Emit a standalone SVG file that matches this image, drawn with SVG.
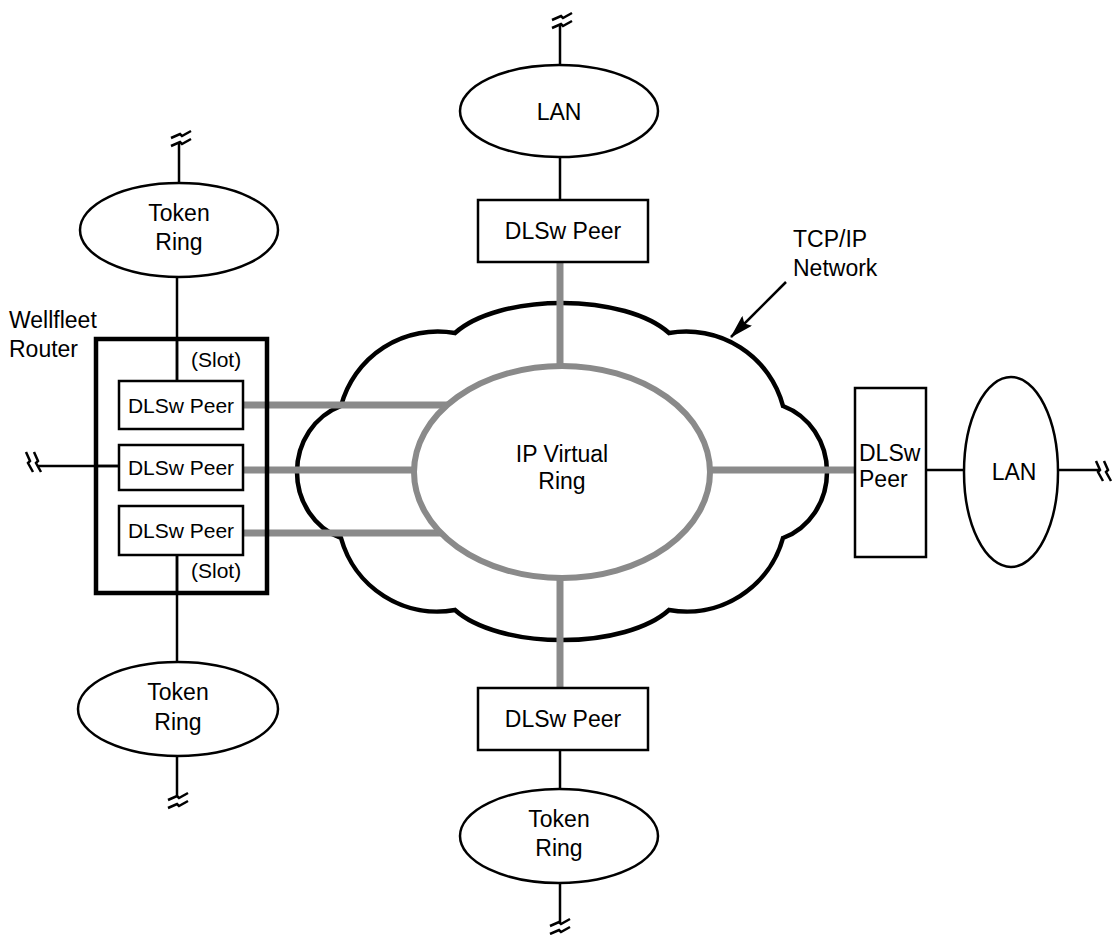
<svg xmlns="http://www.w3.org/2000/svg" xmlns:xlink="http://www.w3.org/1999/xlink" width="1118" height="935" viewBox="0 0 1118 935">
<style>
text{font-family:"Liberation Sans",Arial,Helvetica,sans-serif;font-size:23px;fill:#000}
.c{text-anchor:middle}
.sm{font-size:21px}
.node{fill:#fff;stroke:#000;stroke-width:2.5}
.thin{fill:none;stroke:#000;stroke-width:2.5}
.gray{fill:none;stroke:#8a8a8a;stroke-width:7}
.brk{fill:none;stroke:#000;stroke-width:2.5;stroke-linejoin:miter}
</style>
<defs>
<g id="brk">
<path class="brk" d="M-10,0 L-1,-4 L1,-2 L10,-7"/>
<path class="brk" d="M-10,8 L-1,4 L1,6 L10,1"/>
</g>
<marker id="ah" viewBox="0 0 24 14" refX="23" refY="7" markerWidth="24" markerHeight="14" markerUnits="userSpaceOnUse" orient="auto">
<path d="M0,0 L24,7 L0,14 L4,7 z" fill="#000"/>
</marker>
</defs>
<rect width="1118" height="935" fill="#fff"/>

<g id="cloud">
<path d="M455,333 A120,55 0 0 1 669,333 A100,100 0 0 1 783,406 A66,70 0 0 1 783,538 A100,100 0 0 1 669,610 A120,55 0 0 1 455,610 A100,100 0 0 1 341,538 A66,70 0 0 1 341,406 A100,100 0 0 1 455,333 Z" fill="#fff" stroke="#000" stroke-width="4.5" stroke-linejoin="miter"/>
</g>

<g id="connectors">
<line class="thin" x1="560" y1="25" x2="560" y2="65"/>
<line class="thin" x1="560" y1="157" x2="560" y2="200"/>
<line class="gray" x1="560" y1="262" x2="560" y2="368"/>
<line class="gray" x1="560" y1="577" x2="560" y2="688"/>
<line class="thin" x1="560" y1="750" x2="560" y2="790"/>
<line class="thin" x1="560" y1="883" x2="560" y2="924"/>
<line class="thin" x1="179" y1="143" x2="179" y2="183"/>
<line class="thin" x1="177" y1="277" x2="177" y2="381"/>
<line class="thin" x1="177" y1="555" x2="177" y2="662"/>
<line class="thin" x1="177" y1="757" x2="177" y2="797"/>
<line class="thin" x1="38" y1="466" x2="119" y2="466"/>
<line class="gray" x1="243" y1="405" x2="449" y2="405"/>
<line class="gray" x1="243" y1="470" x2="416" y2="470"/>
<line class="gray" x1="243" y1="533" x2="443" y2="533"/>
<line class="gray" x1="708" y1="470" x2="855" y2="470"/>
<line class="thin" x1="926" y1="470" x2="964" y2="470"/>
<line class="thin" x1="1058" y1="470" x2="1100" y2="470"/>
<line class="thin" x1="786" y1="282" x2="731" y2="337" marker-end="url(#ah)"/>
<use xlink:href="#brk" href="#brk" transform="translate(562,20)"/>
<use xlink:href="#brk" href="#brk" transform="translate(181,138)"/>
<use xlink:href="#brk" href="#brk" transform="translate(178,800)"/>
<use xlink:href="#brk" href="#brk" transform="translate(560,926)"/>
<use xlink:href="#brk" href="#brk" transform="translate(34,462) rotate(90)"/>
<use xlink:href="#brk" href="#brk" transform="translate(1104,471) rotate(90)"/>
</g>

<g id="ip-virtual-ring">
<ellipse cx="562" cy="472" rx="148" ry="106" fill="#fff" stroke="#8a8a8a" stroke-width="6"/>
<text class="c" x="562" y="462">IP Virtual</text>
<text class="c" x="562" y="489">Ring</text>
</g>

<g id="tcpip-label">
<text x="793" y="247">TCP/IP</text>
<text x="793" y="276">Network</text>
</g>

<g id="lan-top">
<ellipse class="node" cx="559" cy="111" rx="99" ry="46"/>
<text class="c" x="559" y="120">LAN</text>
</g>

<g id="dlsw-top">
<rect class="node" x="478" y="200" width="170" height="62"/>
<text class="c" x="563" y="239">DLSw Peer</text>
</g>

<g id="dlsw-bottom">
<rect class="node" x="478" y="688" width="170" height="62"/>
<text class="c" x="563" y="727">DLSw Peer</text>
</g>

<g id="token-ring-bottom">
<ellipse class="node" cx="559" cy="836" rx="99" ry="47"/>
<text class="c" x="559" y="827">Token</text>
<text class="c" x="559" y="856">Ring</text>
</g>

<g id="token-ring-top-left">
<ellipse class="node" cx="179" cy="230" rx="99" ry="47"/>
<text class="c" x="179" y="221">Token</text>
<text class="c" x="179" y="250">Ring</text>
</g>

<g id="token-ring-bottom-left">
<ellipse class="node" cx="178" cy="709" rx="100" ry="47"/>
<text class="c" x="178" y="700">Token</text>
<text class="c" x="178" y="730">Ring</text>
</g>

<g id="wellfleet-router">
<text x="9" y="328">Wellfleet</text>
<text x="9" y="357">Router</text>
<rect x="96" y="339" width="171" height="254" fill="none" stroke="#000" stroke-width="4.5"/>
<line class="thin" x1="177" y1="339" x2="177" y2="381"/>
<line class="thin" x1="177" y1="555" x2="177" y2="593"/>
<line class="thin" x1="96" y1="466" x2="119" y2="466"/>
<text class="sm" x="191" y="367">(Slot)</text>
<text class="sm" x="191" y="578">(Slot)</text>
</g>

<g id="dlsw-router-1">
<rect class="node" x="119" y="381" width="124" height="48"/>
<text class="c sm" x="181" y="413">DLSw Peer</text>
</g>
<g id="dlsw-router-2">
<rect class="node" x="119" y="445" width="124" height="45"/>
<text class="c sm" x="181" y="475">DLSw Peer</text>
</g>
<g id="dlsw-router-3">
<rect class="node" x="119" y="506" width="124" height="49"/>
<text class="c sm" x="181" y="538">DLSw Peer</text>
</g>

<g id="dlsw-right">
<rect class="node" x="855" y="388" width="71" height="169"/>
<text x="859" y="461">DLSw</text>
<text x="859" y="487">Peer</text>
</g>

<g id="lan-right">
<ellipse class="node" cx="1011" cy="472" rx="47" ry="95"/>
<text class="c" x="1014" y="480">LAN</text>
</g>
</svg>
